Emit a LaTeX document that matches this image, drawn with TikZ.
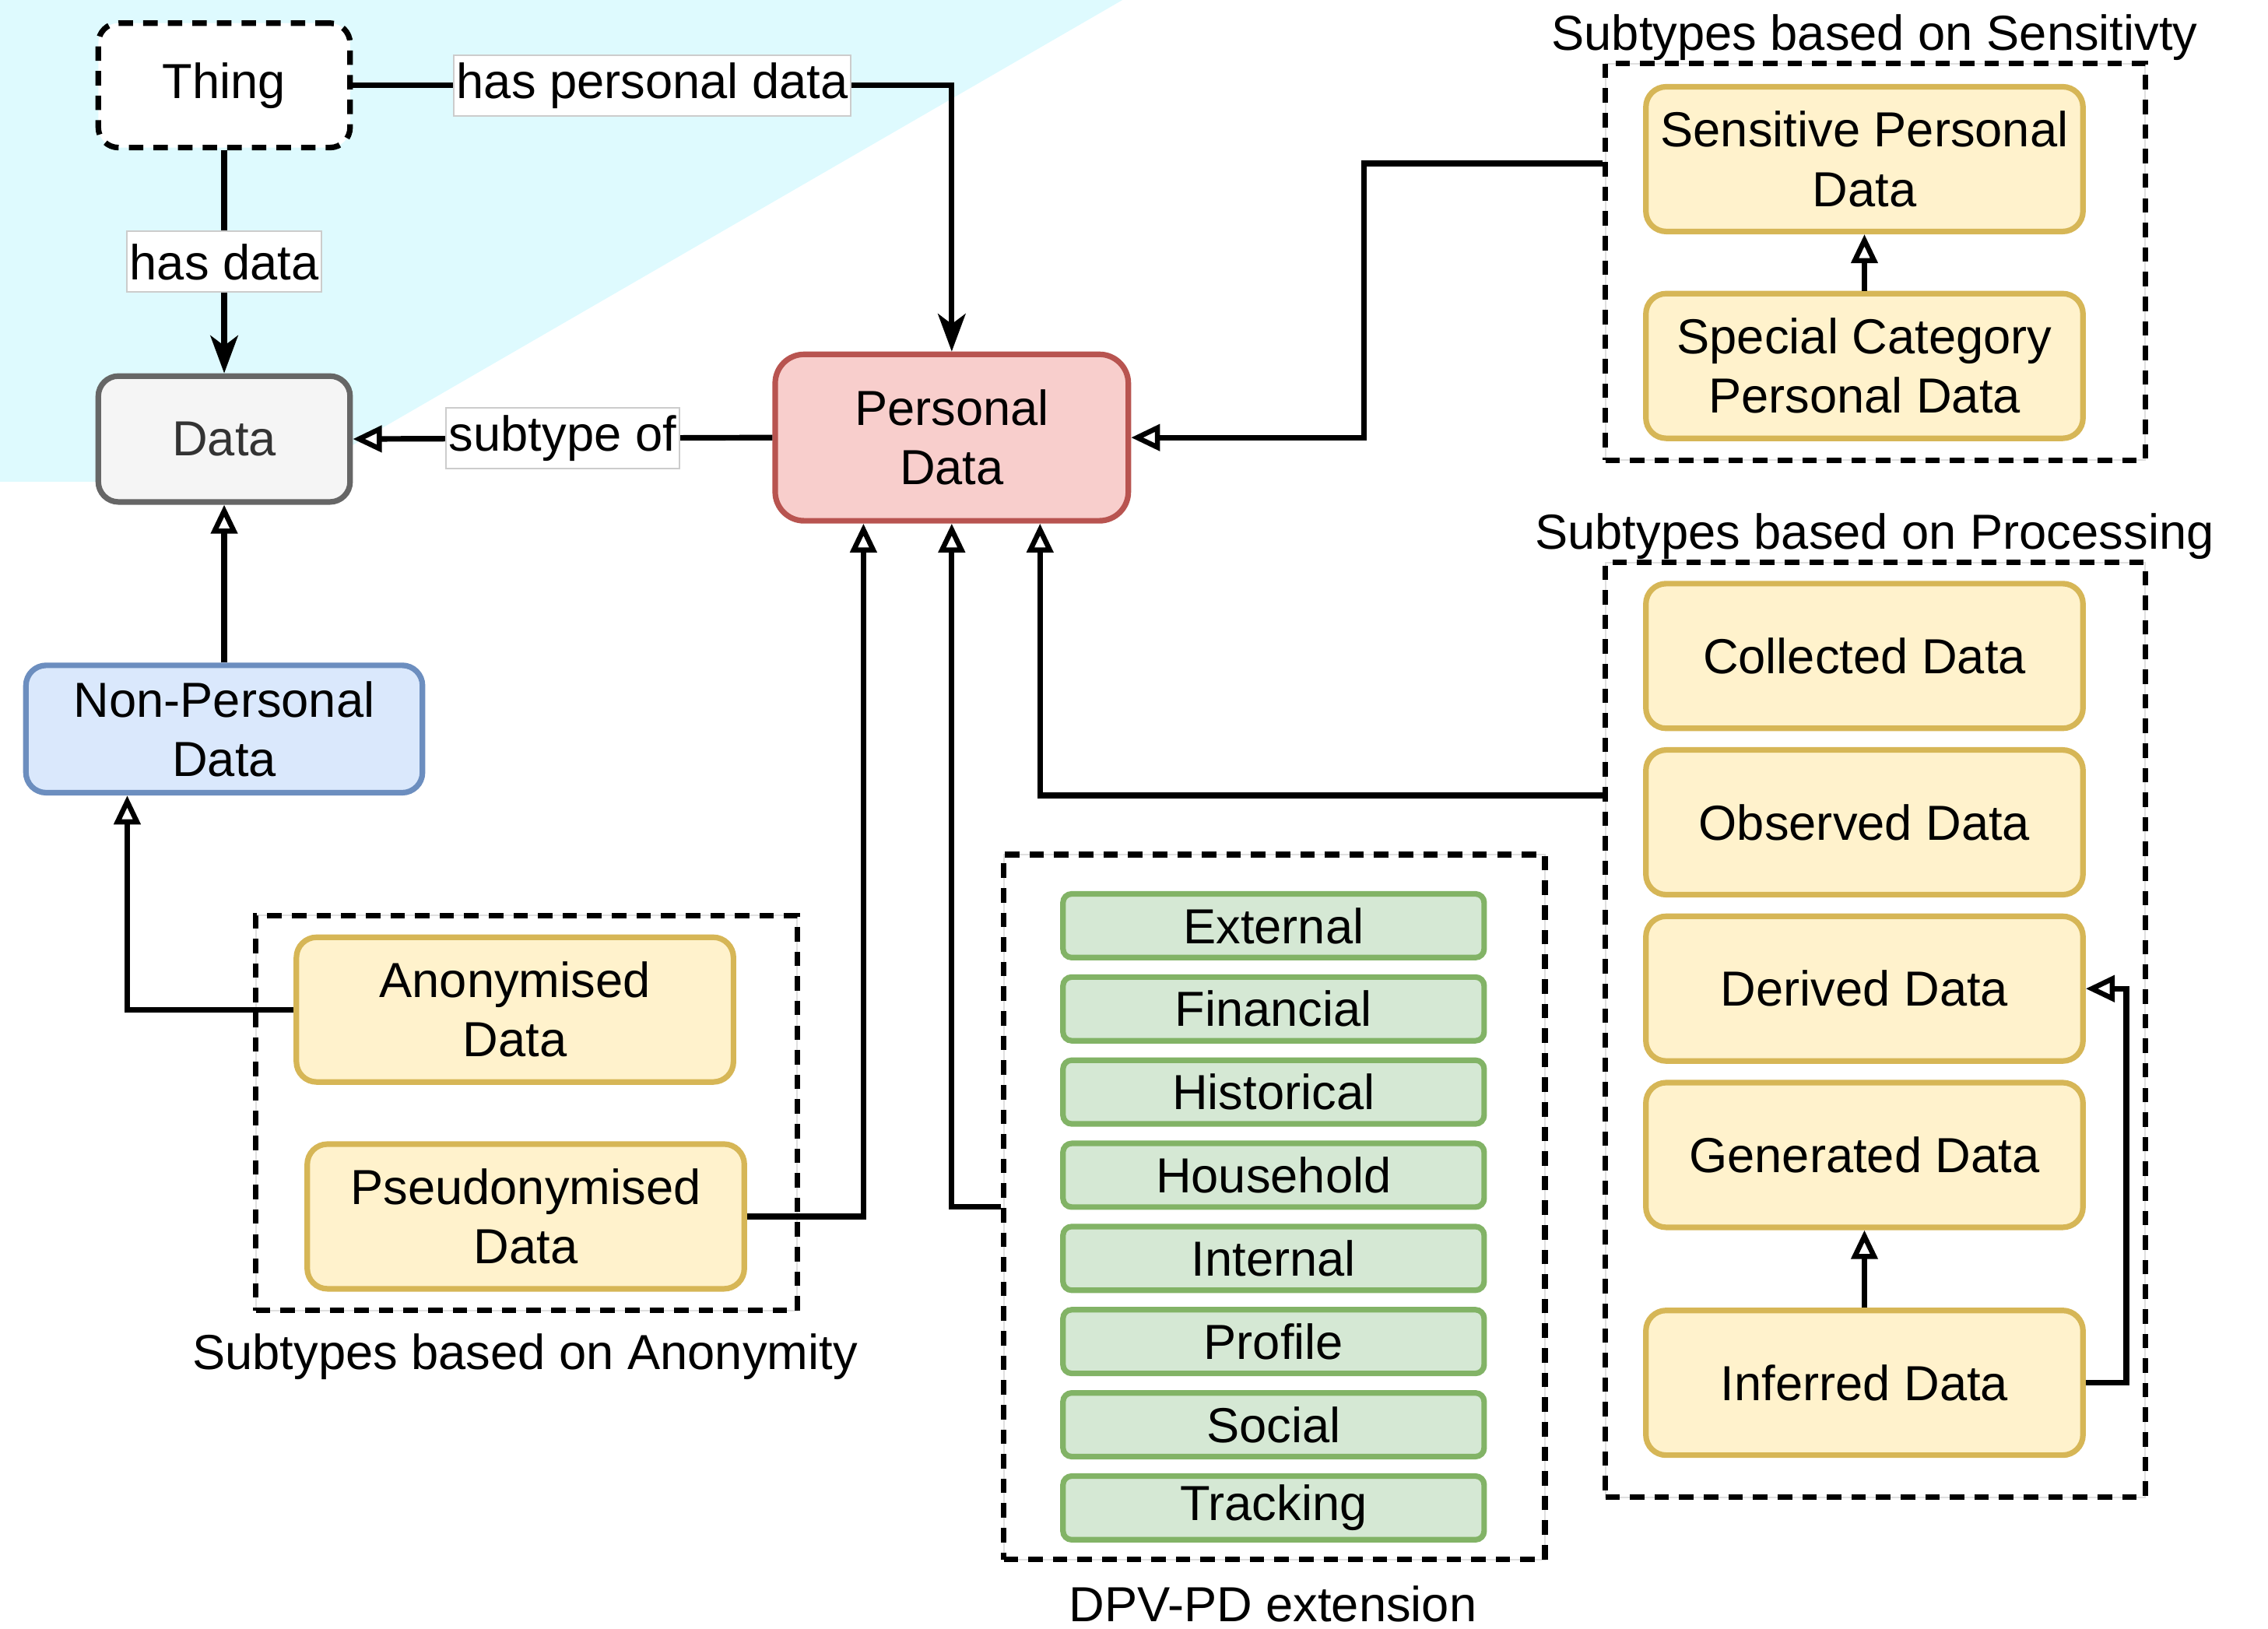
\documentclass[tikz,border=0pt]{standalone}
\usepackage{fontspec}
\setmainfont{Liberation Sans}
\usetikzlibrary{arrows.meta,calc}
\definecolor{bgcyan}{RGB}{222,250,254}
\definecolor{yfill}{HTML}{FFF2CC}
\definecolor{ydraw}{HTML}{D6B656}
\definecolor{gfill}{HTML}{D5E8D4}
\definecolor{gdraw}{HTML}{82B366}
\definecolor{rfill}{HTML}{F8CECC}
\definecolor{rdraw}{HTML}{B85450}
\definecolor{bfill}{HTML}{DAE8FC}
\definecolor{bdraw}{HTML}{6C8EBF}
\definecolor{dfill}{HTML}{F5F5F5}
\definecolor{ddraw}{HTML}{666666}
\definecolor{dtext}{HTML}{333333}
\newcommand{\dgfont}{\fontsize{9.68pt}{11.66pt}\selectfont}
\tikzset{
  base/.style={draw, line width=1.1pt, rounded corners=0.14cm, align=center, inner sep=0pt, font=\dgfont},
  ybox/.style={base, fill=yfill, draw=ydraw, minimum width=3.02cm, minimum height=1.0cm},
  gbox/.style={base, fill=gfill, draw=gdraw, rounded corners=0.06cm, minimum width=2.91cm, minimum height=0.44cm},
  grp/.style={draw, line width=1.1pt, dash pattern=on 0.1cm off 0.07cm, inner sep=0pt,
              preaction={draw=gray!25, line width=0.3pt, solid}},
  lbl/.style={fill=white, draw=gray!40, line width=0.3pt, inner xsep=0.02cm, inner ysep=0pt,
              minimum height=0.42cm, font=\dgfont},
  ttl/.style={font=\dgfont, inner sep=0pt},
  conn/.style={line width=1.1pt},
  filled/.style={-{Stealth[length=0.26cm,width=0.19cm,inset=0.07cm]}},
  hollow/.style={-{Triangle[length=0.2cm,width=0.18cm,fill=white,line width=1pt]}},
}
\begin{document}
\begin{tikzpicture}[x=0.01cm,y=-0.01cm]
\useasboundingbox (0,0) rectangle (1568,1126);
% background
\fill[bgcyan] (0,0) -- (776,0) -- (200,333) -- (0,333) -- cycle;

% main nodes
\node[base, fill=white, draw=black, dash pattern=on 0.1cm off 0.07cm, minimum width=1.74cm, minimum height=0.86cm] (thing) at (155,59) {Thing};
\node[base, fill=dfill, draw=ddraw, text=dtext, minimum width=1.74cm, minimum height=0.87cm] (data) at (155,303.5) {Data};
\node[base, fill=rfill, draw=rdraw, rounded corners=0.2cm, minimum width=2.44cm, minimum height=1.15cm] (personal) at (658,302.5) {Personal\\Data};
\node[base, fill=bfill, draw=bdraw, minimum width=2.74cm, minimum height=0.88cm] (nonp) at (155,504) {Non-Personal\\Data};

% anonymity group
\node[grp, minimum width=3.74cm, minimum height=2.73cm] (grpAnon) at (364,769.5) {};
\node[ybox] (anon) at (356,698) {Anonymised\\Data};
\node[ybox] (pseudo) at (363.5,841) {Pseudonymised\\Data};
\node[ttl] (tAnon) at (363,938) {Subtypes based on Anonymity};

% DPV-PD group
\node[grp, minimum width=3.74cm, minimum height=4.87cm] (grpDpv) at (881,834.5) {};
\node[gbox] (ext) at (880.5,640) {External};
\node[gbox] (fin) at (880.5,697.5) {Financial};
\node[gbox] (his) at (880.5,755) {Historical};
\node[gbox] (hou) at (880.5,812.5) {Household};
\node[gbox] (int) at (880.5,870) {Internal};
\node[gbox] (pro) at (880.5,927.5) {Profile};
\node[gbox] (soc) at (880.5,985) {Social};
\node[gbox] (tra) at (880.5,1042.5) {Tracking};
\node[ttl] (tDpv) at (880,1109) {DPV-PD extension};

% sensitivity group
\node[grp, minimum width=3.73cm, minimum height=2.74cm] (grpSens) at (1296.5,181) {};
\node[ybox] (sensitive) at (1289,110) {Sensitive Personal\\Data};
\node[ybox] (special) at (1289,253) {Special Category\\Personal Data};
\node[ttl] (tSens) at (1296,26) {Subtypes based on Sensitivty};

% processing group
\node[grp, minimum width=3.73cm, minimum height=6.46cm] (grpProc) at (1296.5,712) {};
\node[ybox] (collected) at (1289,453.5) {Collected Data};
\node[ybox] (observed) at (1289,568.5) {Observed Data};
\node[ybox] (derived) at (1289,683.5) {Derived Data};
\node[ybox] (generated) at (1289,798.5) {Generated Data};
\node[ybox] (inferred) at (1289,956) {Inferred Data};
\node[ttl] (tProc) at (1296,371) {Subtypes based on Processing};

% connectors
\draw[conn, filled] (thing.south) -- node[lbl] {has data} (data.north);
\draw[conn, filled] (thing.east) -| node[lbl, pos=0.25] {has personal data} (personal.north);
\draw[conn, hollow] (personal.west) -- node[lbl] {subtype of} (data.east);
\draw[conn, hollow] (nonp.north) -- (data.south);
\draw[conn, hollow] (anon.west) -| ([xshift=-0.67cm]nonp.south);
\draw[conn, hollow] (pseudo.east) -| ([xshift=-0.61cm]personal.south);
\draw[conn, hollow] (grpDpv.west) -| (personal.south);
\draw[conn, hollow] ([yshift=1.62cm]grpProc.west) -| ([xshift=0.61cm]personal.south);
\draw[conn, hollow] ([yshift=0.68cm]grpSens.west) -- ++(-1.65cm,0) |- (personal.east);
\draw[conn, hollow] (special.north) -- (sensitive.south);
\draw[conn, hollow] (inferred.north) -- (generated.south);
\draw[conn, hollow] (inferred.east) -- ++(0.28cm,0) |- (derived.east);
\end{tikzpicture}
\end{document}
